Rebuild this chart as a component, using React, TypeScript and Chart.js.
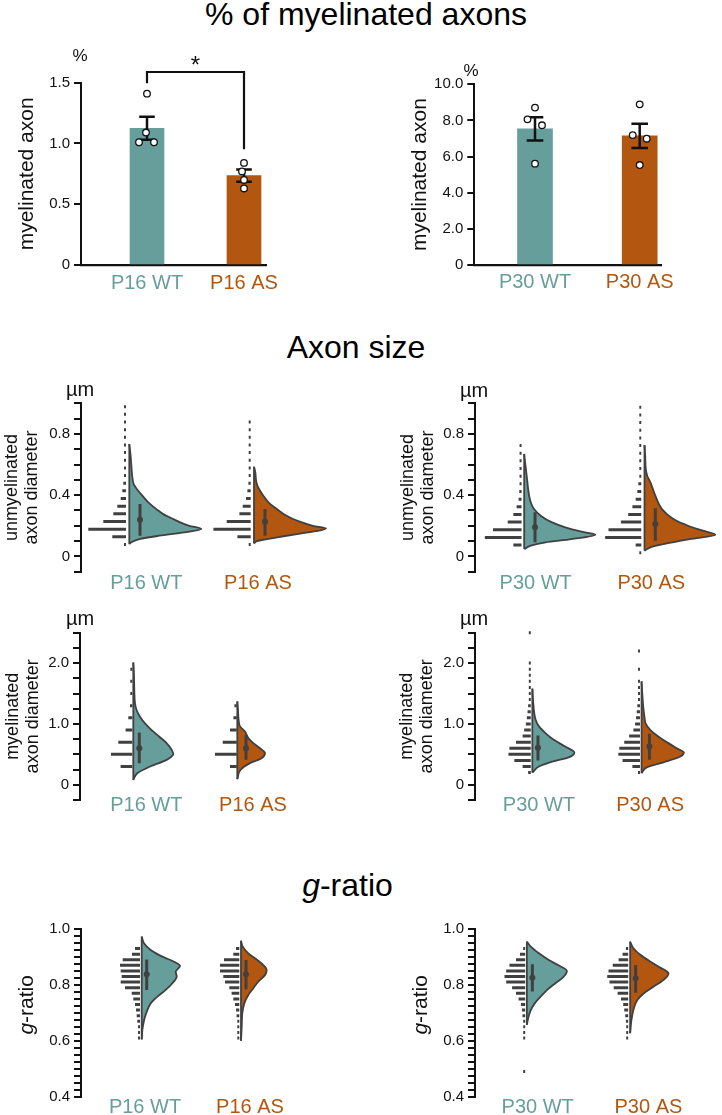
import React, { useEffect, useRef } from 'react';
import { Chart, registerables } from 'chart.js';

Chart.register(...registerables);

const FONT = '"Liberation Sans", Arial, Helvetica, sans-serif';
Chart.defaults.font.family = FONT;

const TEAL = '#669e9c';
const ORANGE = '#b3560f';
const INK = '#404040';
const BLACK = '#111111';

// ---------------- bar panels data ----------------
const catsP16 = ['P16 WT', 'P16 AS'];
const catsP30 = ['P30 WT', 'P30 AS'];

const meansP16 = [1.125, 0.735];
const semP16 = [0.095, 0.051];
const dotsP16WT = [1.41, 1.09, 1.01, 1.01];
const dotsP16AS = [0.84, 0.77, 0.7, 0.63];
const jitterP16WT = [0, -1, -8, 7];
const jitterP16AS = [0, -2, 0, 0];
const bracketX = [1, 1, 2, 2];
const bracketY = [1.495, 1.588, 1.588, 0.953];

const meansP30 = [7.53, 7.15];
const semP30 = [0.64, 0.67];
const dotsP30WT = [8.71, 8.06, 7.73, 5.61];
const dotsP30AS = [8.89, 7.19, 6.99, 5.53];
const jitterP30WT = [0, -7.5, 7, 0];
const jitterP30AS = [0, -7, 7, 0];

// ---------------- raincloud data ----------------
// violin profiles: [value, half-width]
type Prof = [number, number][];
const unmyP16WT_violin: Prof = [[0.08, 0], [0.092, 2], [0.113, 10], [0.135, 30], [0.157, 55], [0.179, 72], [0.2, 60], [0.222, 51], [0.244, 44], [0.276, 34], [0.309, 27], [0.353, 19], [0.397, 13], [0.44, 7.5], [0.47, 4.5], [0.52, 3], [0.571, 2.3], [0.658, 1.3], [0.734, 0]];
const unmyP16AS_violin: Prof = [[0.085, 0], [0.1, 3], [0.113, 12.7], [0.13, 28], [0.146, 43], [0.165, 62], [0.183, 72], [0.2, 59], [0.222, 48], [0.244, 39], [0.275, 30], [0.31, 22.7], [0.35, 15], [0.4, 9], [0.44, 5], [0.47, 3], [0.5, 2], [0.55, 1.3], [0.586, 0]];
const unmyP30WT_violin: Prof = [[0.048, 0], [0.07, 6.7], [0.092, 21.7], [0.113, 48], [0.142, 72.3], [0.157, 61.7], [0.19, 41.7], [0.222, 28.3], [0.266, 16.7], [0.309, 10], [0.353, 6.7], [0.397, 5], [0.44, 4], [0.484, 3.3], [0.571, 1.7], [0.669, 0]];
const unmyP30AS_violin: Prof = [[0.037, 0], [0.059, 6], [0.08, 19.3], [0.113, 46], [0.142, 72], [0.168, 59.3], [0.2, 44.3], [0.244, 29.3], [0.309, 17.7], [0.397, 11], [0.484, 6], [0.527, 2.7], [0.571, 1.3], [0.658, 0.7], [0.728, 0]];
const myP16WT_violin: Prof = [[0.08, 0], [0.19, 4], [0.3, 16.7], [0.41, 33.3], [0.51, 40], [0.575, 38.3], [0.685, 33.3], [0.79, 26], [0.9, 18.3], [1.01, 11.7], [1.12, 6.7], [1.23, 3.3], [1.34, 1.7], [1.56, 1], [1.78, 0.7], [2.01, 0]];
const myP16AS_violin: Prof = [[0.093, 0], [0.247, 3.3], [0.356, 12.7], [0.438, 24.3], [0.52, 27.7], [0.6, 22.7], [0.685, 16], [0.767, 11], [0.877, 7.7], [0.96, 2.7], [1.07, 1.3], [1.23, 0.7], [1.37, 0]];
const myP30WT_violin: Prof = [[0.2, 0], [0.3, 6.7], [0.38, 20], [0.46, 38.3], [0.53, 42.7], [0.63, 33.3], [0.74, 21.7], [0.85, 13.3], [0.96, 6.7], [1.07, 3.3], [1.17, 2], [1.39, 0.7], [1.58, 0]];
const myP30AS_violin: Prof = [[0.19, 0], [0.29, 5.7], [0.37, 22.3], [0.46, 39], [0.53, 43], [0.6, 35.7], [0.685, 27.3], [0.79, 17.3], [0.9, 9], [1.0, 4.3], [1.11, 3], [1.28, 1.7], [1.51, 0.7], [1.7, 0]];
const gP16WT_violin: Prof = [[0.605, 0], [0.64, 0.7], [0.662, 1.7], [0.686, 3.3], [0.71, 5.7], [0.734, 9], [0.758, 15.7], [0.782, 24], [0.806, 30.7], [0.83, 35], [0.847, 34], [0.868, 38.3], [0.883, 32.3], [0.901, 20.7], [0.925, 9], [0.949, 2.3], [0.973, 0]];
const gP16AS_violin: Prof = [[0.6, 0], [0.65, 0.7], [0.698, 1.3], [0.734, 3.3], [0.764, 7.3], [0.788, 12.3], [0.812, 17.3], [0.835, 24], [0.853, 25.7], [0.871, 22.3], [0.889, 16.3], [0.913, 7.3], [0.937, 1.7], [0.958, 0]];
const gP30WT_violin: Prof = [[0.657, 0], [0.68, 1.3], [0.71, 4], [0.734, 8], [0.758, 14], [0.782, 20.7], [0.806, 29], [0.829, 37.3], [0.85, 40.7], [0.871, 31.7], [0.889, 22.3], [0.913, 12.3], [0.937, 4], [0.955, 0]];
const gP30AS_violin: Prof = [[0.627, 0], [0.674, 1.3], [0.71, 3.3], [0.746, 7.3], [0.77, 14], [0.794, 24], [0.818, 34], [0.841, 39], [0.865, 29], [0.883, 20.7], [0.907, 10.7], [0.931, 3.3], [0.955, 0]];

// histogram bar lengths (relative counts) per bin
const unmyP16WT_hist = [1.2, 13.7, 37.7, 22.7, 12.7, 8.7, 5.3, 3.7, 2.7, 2, 1.3, 1.2, 1.2, 1.2, 1.2, 1.2, 1.2, 1.2, 1.2];
const unmyP16AS_hist = [1.2, 13.3, 37.3, 24, 11.3, 8, 4.7, 3.3, 2.3, 1.7, 1.2, 1.2, 1.2, 1.2, 1.2, 1.2, 1.2];
const unmyP30WT_hist = [0, 8.3, 37.3, 29, 14, 8.3, 5, 3, 2.3, 1.7, 1.3, 1.2, 1.2, 1.2, 1.2];
const unmyP30AS_hist = [1.2, 5.7, 36.7, 33.3, 20.7, 13.3, 9, 5.7, 4, 3, 2, 1.3, 1.2, 1.2, 1.2, 1.2, 1.2, 1.2, 1.2, 1.2];
const myP16WT_hist = [11.7, 21.3, 14, 6.7, 4, 2.3, 1.7, 1.2, 1.2];
const myP16AS_hist = [6.7, 21.7, 14, 6.7, 3.3, 2.3];
const myP30WT_hist = [2.7, 8.3, 16.7, 22.7, 21.7, 15, 8.3, 6.7, 5, 4, 3.3, 2.7, 2, 1.7, 1.3, 1.2, 1.2, 1.2, 1.2, 0, 0, 0, 0, 1.2];
const myP30AS_hist = [1.7, 7.7, 17.7, 22, 21, 16, 11, 6.7, 5, 4, 3.3, 2.7, 2, 1.7, 1.3, 1.2, 0, 1.2, 0, 0, 1.2];
const gP16WT_hist = [1, 1.5, 2, 2.7, 3.3, 4, 5, 6.7, 8.3, 15, 19.3, 18.3, 19.3, 20, 17.3, 8, 5];
const gP16AS_hist = [1, 1.2, 1.5, 2, 2.7, 3.3, 4.3, 6, 7.7, 10, 14.3, 16, 19.3, 19.3, 15.3, 6, 3.3];
const gP30WT_hist = [1.2, 0, 0, 0, 0, 0, 1.2, 1.2, 1.3, 2, 2.7, 3.3, 4.3, 6.7, 9.3, 13.3, 19.3, 21, 19.3, 16, 9.3, 5.3, 1.7];
const gP30AS_hist = [1, 1.3, 1.7, 2.3, 3, 4, 5, 7.3, 10.7, 14.7, 19, 21.3, 20, 15.7, 9.7, 5.7, 2.3];

// bin starts and widths
const unmyP16_bins = [0.078, 0.05];
const unmyP30_bins = [0.024, 0.05];
const myP16_bins = [0.3, 0.2];
const myP30_bins = [0.2, 0.1];
const gP16_bins = [0.61, 0.02];
const gP30WT_bins = [0.49, 0.02];
const gP30AS_bins = [0.61, 0.02];

// [q1, q3, median]
const unmyP16WT_box = [0.135, 0.342, 0.239];
const unmyP16AS_box = [0.135, 0.31, 0.227];
const unmyP30WT_box = [0.092, 0.288, 0.19];
const unmyP30AS_box = [0.102, 0.314, 0.211];
const myP16WT_box = [0.356, 0.86, 0.6];
const myP16AS_box = [0.41, 0.82, 0.6];
const myP30WT_box = [0.4, 0.81, 0.61];
const myP30AS_box = [0.41, 0.84, 0.63];
const gP16WT_box = [0.782, 0.891, 0.838];
const gP16AS_box = [0.784, 0.889, 0.838];
const gP30WT_box = [0.776, 0.874, 0.826];
const gP30AS_box = [0.772, 0.871, 0.823];

// ---------------- helpers ----------------
type Box = { left: number; top: number; width: number; height: number };
type Group = { profile: Prof; hist: number[]; bins: number[]; box: number[] };

const MIN_DOT = 2;

function extras(opt: any) {
  return {
    id: 'extras',
    afterDraw(chart: any) {
      const { ctx, chartArea, scales } = chart;
      ctx.save();
      ctx.fillStyle = BLACK;
      if (opt.unit) {
        ctx.font = `${opt.unit.size}px ${FONT}`;
        ctx.textAlign = 'center';
        ctx.textBaseline = 'middle';
        ctx.fillText(opt.unit.text, chartArea.left + opt.unit.dx, chartArea.top + opt.unit.dy);
      }
      if (opt.star) {
        ctx.font = `24px ${FONT}`;
        ctx.textAlign = 'center';
        ctx.textBaseline = 'alphabetic';
        ctx.fillText('*', scales.x.getPixelForValue(opt.star.x), scales.y.getPixelForValue(opt.star.y) + 1);
      }
      if (opt.xLabels) {
        ctx.font = `20px ${FONT}`;
        ctx.textAlign = 'center';
        ctx.textBaseline = 'middle';
        opt.xLabels.vals.forEach((v: number, i: number) => {
          ctx.fillStyle = i === 0 ? TEAL : ORANGE;
          ctx.fillText(opt.xLabels.texts[i], scales.x.getPixelForValue(v), chartArea.bottom + opt.xLabels.dy);
        });
        ctx.fillStyle = BLACK;
      }
      if (opt.gTitle) {
        const cx = chartArea.left + opt.gTitle.dx;
        const cy = (chartArea.top + chartArea.bottom) / 2 + opt.gTitle.dy;
        ctx.translate(cx, cy);
        ctx.rotate(-Math.PI / 2);
        const fi = `italic 21px ${FONT}`;
        const fn = `21px ${FONT}`;
        ctx.font = fi;
        const w1 = ctx.measureText('g').width;
        ctx.font = fn;
        const w2 = ctx.measureText('-ratio').width;
        ctx.textBaseline = 'middle';
        ctx.textAlign = 'left';
        const x0 = -(w1 + w2) / 2;
        ctx.font = fi;
        ctx.fillText('g', x0, 0);
        ctx.font = fn;
        ctx.fillText('-ratio', x0 + w1, 0);
      }
      ctx.restore();
    },
  };
}

function yScale(s: any) {
  return {
    type: 'linear',
    min: s.yMin,
    max: s.yMax,
    afterFit: (sc: any) => { sc.width = s.axisX - s.box.left; },
    ticks: {
      stepSize: s.yStep,
      autoSkip: false,
      font: { size: 15 },
      color: BLACK,
      padding: 4,
      callback: (v: number) => {
        const r = Math.round(v / s.yLabelEvery);
        if (Math.abs(v - r * s.yLabelEvery) < 1e-6) return Math.abs(v) < 1e-9 ? '0' : v.toFixed(1);
        return '';
      },
    },
    grid: { display: true, drawOnChartArea: false, drawTicks: true, tickLength: 7, lineWidth: 2, color: BLACK },
    border: { display: true, width: 2, color: BLACK },
    title: s.yTitle
      ? { display: true, text: s.yTitle, color: BLACK, font: { size: s.yTitleSize, lineHeight: s.yTitleLH }, padding: { top: s.yTitlePad, bottom: 0 } }
      : { display: false },
  };
}

function xScale(s: any, xMin: number, xMax: number, border: boolean) {
  return {
    type: 'linear',
    min: xMin,
    max: xMax,
    offset: false,
    afterFit: (sc: any) => { sc.height = s.box.top + s.box.height - s.areaBottom; },
    ticks: { display: false },
    grid: { display: false, drawTicks: false, offset: false },
    border: border ? { display: true, width: 2.3, color: BLACK } : { display: false },
  };
}

function baseOptions(s: any, scales: any) {
  return {
    animation: false,
    responsive: false,
    devicePixelRatio: 1,
    events: [],
    layout: { padding: { left: 0, top: s.areaTop - s.box.top, right: s.box.left + s.box.width - s.right, bottom: 0 } },
    plugins: { legend: { display: false }, tooltip: { enabled: false } },
    scales,
  };
}

function rainConfig(s: any) {
  const k = s.base[1] - s.base[0];
  const xMin = 1 - (s.base[0] - s.axisX) / k;
  const xMax = 2 + (s.right - s.base[1]) / k;
  const colors = [TEAL, ORANGE];
  const datasets: any[] = [];
  (s.groups as Group[]).forEach((g, i) => {
    const gx = i + 1;
    const edge = gx + s.histGap[i] / k;
    const histPts: any[] = [];
    g.hist.forEach((len, j) => {
      if (len <= 0) return;
      const c = g.bins[0] + j * g.bins[1];
      histPts.push({ x: edge - Math.max(len, MIN_DOT) / k, y: c }, { x: edge, y: c }, { x: edge, y: null });
    });
    datasets.push({ type: 'line', data: histPts, borderColor: INK, borderWidth: 3, borderCapStyle: 'butt', pointRadius: 0, spanGaps: false, tension: 0, fill: false, order: 6, clip: false });
    const vmin = g.profile[0][0];
    const vmax = g.profile[g.profile.length - 1][0];
    datasets.push({
      type: 'line', indexAxis: 'y',
      data: g.profile.map(([v, w]) => ({ x: gx + w / k, y: v })),
      fill: { value: gx }, backgroundColor: colors[i], borderColor: INK, borderWidth: 1.8,
      pointRadius: 0, cubicInterpolationMode: 'monotone', order: 5, clip: false,
    });
    datasets.push({ type: 'line', data: [{ x: gx, y: vmin }, { x: gx, y: vmax }], borderColor: INK, borderWidth: 1.8, pointRadius: 0, fill: false, order: 4, clip: false });
    const ix = gx + s.iqrGap[i] / k;
    datasets.push({ type: 'line', data: [{ x: ix, y: g.box[0] }, { x: ix, y: g.box[1] }], borderColor: INK, borderWidth: 3, pointRadius: 0, fill: false, order: 2 });
    datasets.push({ type: 'line', data: [{ x: ix, y: g.box[2] }], showLine: false, pointRadius: 3, pointBackgroundColor: INK, pointBorderWidth: 0, order: 1 });
  });
  const tickVals = [1 + (s.labelX[0] - s.base[0]) / k, 2 + (s.labelX[1] - s.base[1]) / k];
  return {
    type: 'line',
    data: { datasets },
    options: baseOptions(s, { x: xScale(s, xMin, xMax, false), y: yScale(s) }),
    plugins: [extras({ unit: s.unit, gTitle: s.gTitle, xLabels: { vals: tickVals, texts: s.labels, dy: s.labelDy } })],
  };
}

function barConfig(s: any) {
  const k = s.centers[1] - s.centers[0];
  const xMin = 1 - (s.centers[0] - s.axisX) / k;
  const xMax = 2 + (s.right - s.centers[1]) / k;
  const cap = s.capHalf / k;
  const err: any[] = [];
  (s.means as number[]).forEach((m, i) => {
    const g = i + 1;
    const lo = m - s.sem[i];
    const hi = m + s.sem[i];
    err.push({ x: g, y: lo }, { x: g, y: hi }, { x: g, y: null },
      { x: g - cap, y: hi }, { x: g + cap, y: hi }, { x: g, y: null },
      { x: g - cap, y: lo }, { x: g + cap, y: lo }, { x: g, y: null });
  });
  const dots: any[] = [];
  (s.dots as number[][]).forEach((arr, i) => arr.forEach((v, j) => dots.push({ x: i + 1 + s.jitter[i][j] / k, y: v })));
  const datasets: any[] = [
    { type: 'bar', data: s.means.map((m: number, i: number) => ({ x: i + 1, y: m })), backgroundColor: [TEAL, ORANGE], barThickness: s.barWidth, borderWidth: 0, order: 10 },
    { type: 'line', data: err, borderColor: BLACK, borderWidth: 2.5, borderCapStyle: 'butt', pointRadius: 0, spanGaps: false, fill: false, order: 5 },
    { type: 'line', data: dots, showLine: false, pointRadius: 3.3, pointBackgroundColor: '#ffffff', pointBorderColor: BLACK, pointBorderWidth: 1.3, order: 1 },
  ];
  if (s.bracket) {
    datasets.push({ type: 'line', data: s.bracket.x.map((x: number, i: number) => ({ x, y: s.bracket.y[i] })), borderColor: BLACK, borderWidth: 2.2, pointRadius: 0, fill: false, clip: false, order: 3 });
  }
  return {
    type: 'line',
    data: { datasets },
    options: baseOptions(s, { x: xScale(s, xMin, xMax, true), y: yScale(s) }),
    plugins: [extras({ unit: s.unit, star: s.star, xLabels: { vals: [1, 2], texts: s.labels, dy: s.labelDy } })],
  };
}

// ---------------- panel specs (layout) ----------------
const panelA = {
  box: { left: 0, top: 40, width: 361, height: 260 }, axisX: 81, right: 266, areaTop: 82.7, areaBottom: 265,
  centers: [147, 244], barWidth: 34, capHalf: 7.8, labelDy: 18, labels: catsP16,
  means: meansP16, sem: semP16, dots: [dotsP16WT, dotsP16AS], jitter: [jitterP16WT, jitterP16AS],
  bracket: { x: bracketX, y: bracketY }, star: { x: 1.5, y: bracketY[1] },
  yMin: 0, yMax: 1.5, yStep: 0.5, yLabelEvery: 0.5,
  yTitle: 'myelinated axon', yTitleSize: 21, yTitleLH: 1.2, yTitlePad: 14.4,
  unit: { text: '%', dx: -1, dy: -26.7, size: 17 },
};
const panelB = {
  box: { left: 361, top: 40, width: 361, height: 260 }, axisX: 474.3, right: 661.7, areaTop: 84.3, areaBottom: 265,
  centers: [535, 639.7], barWidth: 35, capHalf: 8.3, labelDy: 17, labels: catsP30,
  means: meansP30, sem: semP30, dots: [dotsP30WT, dotsP30AS], jitter: [jitterP30WT, jitterP30AS],
  yMin: 0, yMax: 10, yStep: 2, yLabelEvery: 2,
  yTitle: 'myelinated axon', yTitleSize: 21, yTitleLH: 1.2, yTitlePad: 46.4,
  unit: { text: '%', dx: -3.3, dy: -12.8, size: 17 },
};
const panelC = {
  box: { left: 0, top: 370, width: 361, height: 230 }, axisX: 81, right: 345, areaTop: 403.3, areaBottom: 571.7,
  base: [129.3, 254], histGap: [-3.3, -3.3], iqrGap: [10.7, 11], labelX: [146.3, 258], labelDy: 11.8, labels: catsP16,
  yMin: -0.1, yMax: 1.0, yStep: 0.1, yLabelEvery: 0.4,
  yTitle: ['unmyelinated', 'axon diameter'], yTitleSize: 18, yTitleLH: 1.1, yTitlePad: 2.6,
  unit: { text: 'µm', dx: -1, dy: -13.3, size: 20 },
  groups: [
    { profile: unmyP16WT_violin, hist: unmyP16WT_hist, bins: unmyP16_bins, box: unmyP16WT_box },
    { profile: unmyP16AS_violin, hist: unmyP16AS_hist, bins: unmyP16_bins, box: unmyP16AS_box },
  ],
};
const panelD = {
  box: { left: 361, top: 370, width: 361, height: 230 }, axisX: 475, right: 722, areaTop: 403.3, areaBottom: 571.7,
  base: [525, 647.3], histGap: [-2.7, -3.3], iqrGap: [11, 11], labelX: [536.7, 654.2], labelDy: 11.8, labels: catsP30,
  yMin: -0.1, yMax: 1.0, yStep: 0.1, yLabelEvery: 0.4,
  yTitle: ['unmyelinated', 'axon diameter'], yTitleSize: 18, yTitleLH: 1.1, yTitlePad: 37.4,
  unit: { text: 'µm', dx: -1, dy: -12.3, size: 20 },
  groups: [
    { profile: unmyP30WT_violin, hist: unmyP30WT_hist, bins: unmyP30_bins, box: unmyP30WT_box },
    { profile: unmyP30AS_violin, hist: unmyP30AS_hist, bins: unmyP30_bins, box: unmyP30AS_box },
  ],
};
const panelE = {
  box: { left: 0, top: 598, width: 361, height: 230 }, axisX: 80, right: 345, areaTop: 632.7, areaBottom: 800,
  base: [133.3, 237.3], histGap: [-1, -0.6], iqrGap: [6, 8.7], labelX: [146.3, 253], labelDy: 5.5, labels: catsP16,
  yMin: -0.25, yMax: 2.5, yStep: 0.25, yLabelEvery: 1,
  yTitle: ['myelinated', 'axon diameter'], yTitleSize: 18, yTitleLH: 1.1, yTitlePad: 3.4,
  unit: { text: 'µm', dx: 0, dy: -13.7, size: 20 },
  groups: [
    { profile: myP16WT_violin, hist: myP16WT_hist, bins: myP16_bins, box: myP16WT_box },
    { profile: myP16AS_violin, hist: myP16AS_hist, bins: myP16_bins, box: myP16AS_box },
  ],
};
const panelF = {
  box: { left: 361, top: 598, width: 361, height: 230 }, axisX: 475, right: 722, areaTop: 632.7, areaBottom: 800,
  base: [533.3, 644.3], histGap: [-1.6, -1.6], iqrGap: [5.7, 8], labelX: [540, 653], labelDy: 5.5, labels: catsP30,
  yMin: -0.25, yMax: 2.5, yStep: 0.25, yLabelEvery: 1,
  yTitle: ['myelinated', 'axon diameter'], yTitleSize: 18, yTitleLH: 1.1, yTitlePad: 36,
  unit: { text: 'µm', dx: -1, dy: -13.7, size: 20 },
  groups: [
    { profile: myP30WT_violin, hist: myP30WT_hist, bins: myP30_bins, box: myP30WT_box },
    { profile: myP30AS_violin, hist: myP30AS_hist, bins: myP30_bins, box: myP30AS_box },
  ],
};
const panelG = {
  box: { left: 0, top: 900, width: 361, height: 215 }, axisX: 81, right: 345, areaTop: 929, areaBottom: 1096.7,
  base: [141.7, 241], histGap: [-1.7, -1.7], iqrGap: [5, 5], labelX: [145, 250], labelDy: 10.8, labels: catsP16,
  yMin: 0.4, yMax: 1.0, yStep: 0.025, yLabelEvery: 0.2,
  yTitle: null, gTitle: { dx: -54, dy: -8 },
  groups: [
    { profile: gP16WT_violin, hist: gP16WT_hist, bins: gP16_bins, box: gP16WT_box },
    { profile: gP16AS_violin, hist: gP16AS_hist, bins: gP16_bins, box: gP16AS_box },
  ],
};
const panelH = {
  box: { left: 361, top: 900, width: 361, height: 215 }, axisX: 475, right: 722, areaTop: 929, areaBottom: 1096.7,
  base: [527.7, 632.7], histGap: [-1.7, -2], iqrGap: [5.6, 5.6], labelX: [538.7, 651.3], labelDy: 10.8, labels: catsP30,
  yMin: 0.4, yMax: 1.0, yStep: 0.025, yLabelEvery: 0.2,
  yTitle: null, gTitle: { dx: -54, dy: -8 },
  groups: [
    { profile: gP30WT_violin, hist: gP30WT_hist, bins: gP30WT_bins, box: gP30WT_box },
    { profile: gP30AS_violin, hist: gP30AS_hist, bins: gP30AS_bins, box: gP30AS_box },
  ],
};

// ---------------- components ----------------
function ChartCanvas({ box, make }: { box: Box; make: () => any }) {
  const ref = useRef<HTMLCanvasElement>(null);
  useEffect(() => {
    const chart = new Chart(ref.current as HTMLCanvasElement, make());
    return () => chart.destroy();
  }, []);
  return (
    <canvas
      ref={ref}
      width={box.width}
      height={box.height}
      style={{ position: 'absolute', left: box.left, top: box.top, width: box.width, height: box.height }}
    />
  );
}

function Heading({ cx, baseline, children }: { cx: number; baseline: number; children: React.ReactNode }) {
  return (
    <div
      style={{
        position: 'absolute', left: cx, top: baseline - 27.1, transform: 'translateX(-50%)',
        fontSize: 32, lineHeight: '32px', whiteSpace: 'nowrap', color: '#000', fontFamily: FONT,
      }}
    >
      {children}
    </div>
  );
}

export default function App() {
  return (
    <div style={{ position: 'absolute', left: 0, top: 0, width: 722, height: 1115, overflow: 'hidden', background: '#fff' }}>
      <Heading cx={366} baseline={25}>% of myelinated axons</Heading>
      <Heading cx={356} baseline={358.3}>Axon size</Heading>
      <Heading cx={347.5} baseline={896}><i>g</i>-ratio</Heading>
      <ChartCanvas box={panelA.box} make={() => barConfig(panelA)} />
      <ChartCanvas box={panelB.box} make={() => barConfig(panelB)} />
      <ChartCanvas box={panelC.box} make={() => rainConfig(panelC)} />
      <ChartCanvas box={panelD.box} make={() => rainConfig(panelD)} />
      <ChartCanvas box={panelE.box} make={() => rainConfig(panelE)} />
      <ChartCanvas box={panelF.box} make={() => rainConfig(panelF)} />
      <ChartCanvas box={panelG.box} make={() => rainConfig(panelG)} />
      <ChartCanvas box={panelH.box} make={() => rainConfig(panelH)} />
    </div>
  );
}
